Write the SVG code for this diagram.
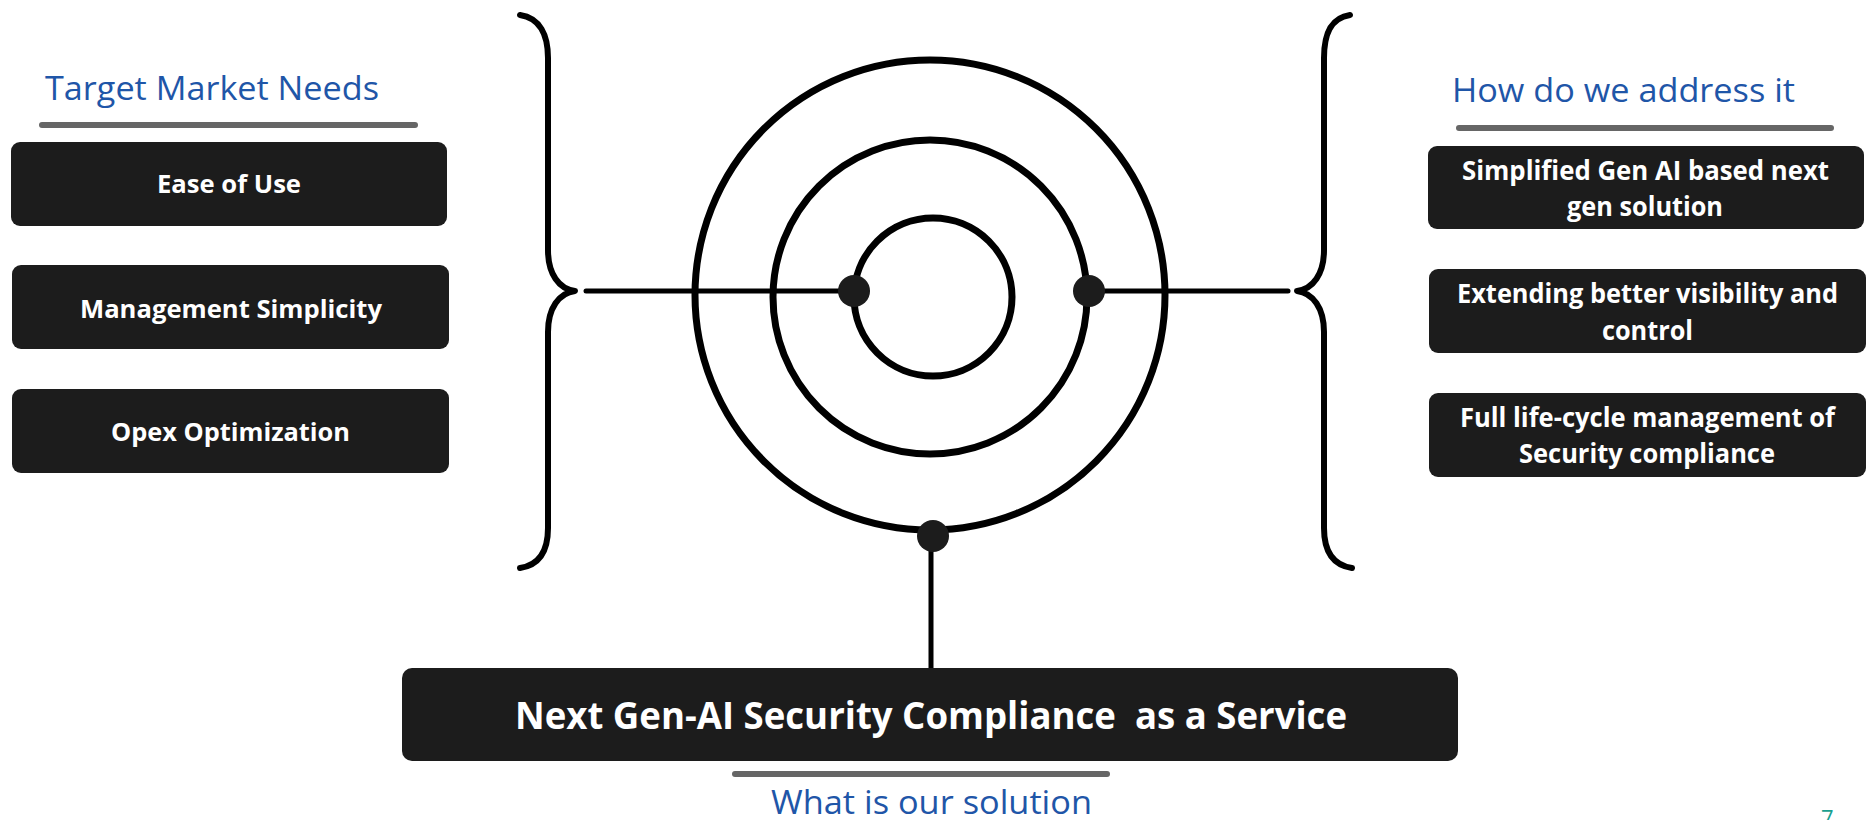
<svg xmlns="http://www.w3.org/2000/svg" width="1871" height="820" viewBox="0 0 1871 820">
<style>
.hdr{font-family:"Open Sans","Liberation Sans",sans-serif;fill:#1F56A8;}
.box{fill:#1c1c1c;}
.bt{font-family:"Open Sans","Liberation Sans",sans-serif;font-weight:bold;fill:#ffffff;text-anchor:middle;}
.rule{stroke:#666666;stroke-width:6;stroke-linecap:round;}
.ring{fill:none;stroke:#000000;stroke-width:7;}
.brace{fill:none;stroke:#000000;stroke-width:6;stroke-linecap:round;stroke-linejoin:round;}
.conn{stroke:#000000;stroke-width:5;stroke-linecap:round;fill:none;}
.dot{fill:#1c1c1c;}
</style>
<rect width="1871" height="820" fill="#ffffff"/>

<g id="left-header">
<text class="hdr" x="45" y="100" font-size="33" textLength="334" lengthAdjust="spacingAndGlyphs">Target Market Needs</text>
<line class="rule" x1="42" y1="125" x2="415" y2="125"/>
</g>
<g id="ease-of-use">
<rect class="box" x="11" y="142" width="436" height="84" rx="9"/>
<text class="bt" x="229" y="193" font-size="25" textLength="144" lengthAdjust="spacingAndGlyphs">Ease of Use</text>
</g>
<g id="management-simplicity">
<rect class="box" x="12" y="265" width="437" height="84" rx="9"/>
<text class="bt" x="231" y="318" font-size="25" textLength="302" lengthAdjust="spacingAndGlyphs">Management Simplicity</text>
</g>
<g id="opex-optimization">
<rect class="box" x="12" y="389" width="437" height="84" rx="9"/>
<text class="bt" x="230.5" y="441" font-size="25" textLength="239" lengthAdjust="spacingAndGlyphs">Opex Optimization</text>
</g>

<g id="right-header">
<text class="hdr" x="1452" y="102" font-size="33" textLength="343" lengthAdjust="spacingAndGlyphs">How do we address it</text>
<line class="rule" x1="1459" y1="128" x2="1831" y2="128"/>
</g>
<g id="simplified-gen-ai">
<rect class="box" x="1428" y="146" width="436" height="83" rx="9"/>
<text class="bt" x="1645.5" y="180" font-size="26" textLength="367" lengthAdjust="spacingAndGlyphs">Simplified Gen AI based next</text>
<text class="bt" x="1645" y="216" font-size="26" textLength="156" lengthAdjust="spacingAndGlyphs">gen solution</text>
</g>
<g id="extending-visibility">
<rect class="box" x="1429" y="269" width="437" height="84" rx="9"/>
<text class="bt" x="1647.5" y="303" font-size="26" textLength="381" lengthAdjust="spacingAndGlyphs">Extending better visibility and</text>
<text class="bt" x="1647.5" y="340" font-size="26" textLength="91" lengthAdjust="spacingAndGlyphs">control</text>
</g>
<g id="full-lifecycle">
<rect class="box" x="1429" y="393" width="437" height="84" rx="9"/>
<text class="bt" x="1647.5" y="427" font-size="26" textLength="375" lengthAdjust="spacingAndGlyphs">Full life-cycle management of</text>
<text class="bt" x="1647" y="463" font-size="26" textLength="256" lengthAdjust="spacingAndGlyphs">Security compliance</text>
</g>

<g id="target">
<circle class="ring" cx="930" cy="295" r="235"/>
<circle class="ring" cx="930" cy="297" r="157"/>
<circle class="ring" cx="933" cy="297" r="79"/>
</g>

<g id="braces">
<path class="brace" d="M520,15 C540,18 548,35 548,58 L548,250 C548,274 559,289 575,291 C559,293 548,308 548,332 L548,528 C548,550 540,565 520,568"/>
<path class="brace" d="M1350,15 C1330,18 1324,35 1324,58 L1324,250 C1324,274 1313,289 1297,291 C1313,293 1324,308 1324,332 L1324,528 C1324,550 1332,565 1352,568"/>
</g>

<g id="connectors">
<line class="conn" x1="586" y1="291" x2="854" y2="291"/>
<line class="conn" x1="1089" y1="291" x2="1288" y2="291"/>
<line class="conn" x1="931" y1="536" x2="931" y2="669"/>
<circle class="dot" cx="854" cy="291" r="16"/>
<circle class="dot" cx="1089" cy="291" r="16"/>
<circle class="dot" cx="933" cy="536" r="16"/>
</g>

<g id="solution">
<rect class="box" x="402" y="668" width="1056" height="93" rx="10"/>
<text class="bt" x="931" y="729" font-size="37" textLength="832" lengthAdjust="spacingAndGlyphs" xml:space="preserve">Next Gen-AI Security Compliance  as a Service</text>
</g>
<g id="solution-footer">
<line class="rule" x1="735" y1="774" x2="1107" y2="774"/>
<text class="hdr" x="771" y="814" font-size="32" textLength="321" lengthAdjust="spacingAndGlyphs">What is our solution</text>
</g>
<text x="1821" y="826" font-family="'Open Sans','Liberation Sans',sans-serif" font-size="22" fill="#1AA08F">7</text>
</svg>
